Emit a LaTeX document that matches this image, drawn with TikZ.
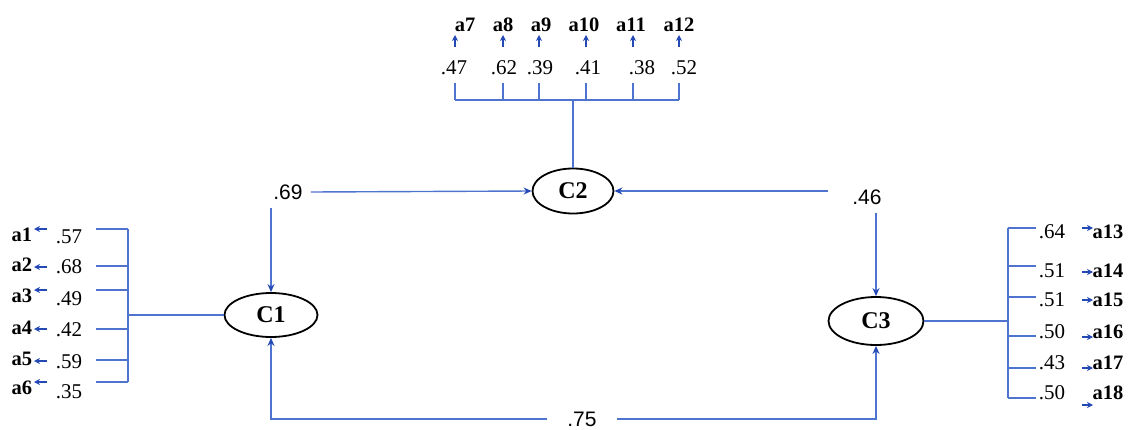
\documentclass[tikz,border=0pt]{standalone}
\usepackage{fontspec}
\setmainfont{Liberation Serif}
\newfontfamily\arialfont{Liberation Sans}
\usetikzlibrary{arrows.meta,shapes.geometric}
\definecolor{lnblue}{HTML}{4F74CF}
\definecolor{tipblue}{HTML}{2449B5}
\begin{document}
\begin{tikzpicture}[x=1pt,y=-1pt, >={Stealth[length=8pt,width=7pt,color=tipblue]},
  lat/.style={draw=black,ellipse,line width=1.8pt,inner sep=0pt,minimum width=93,minimum height=44,font=\fontsize{24}{26}\selectfont\bfseries},
  item/.style={inner sep=0pt,font=\fontsize{20.5}{22}\selectfont\bfseries},
  num/.style={inner sep=0pt,font=\fontsize{21}{23}\selectfont},
  cor/.style={inner ysep=8pt,inner xsep=8pt,font=\fontsize{21}{24}\selectfont\arialfont},
  line/.style={draw=lnblue,line width=1.4pt},
  ind/.style={draw=tipblue,line width=1.2pt,>={Stealth[length=6pt,width=6pt,color=tipblue]}}]
\useasboundingbox (0,0) rectangle (1128,429);
% latent factors
\node[lat] (C1) at (271,315) {C1};
\node[lat,minimum width=81,minimum height=45] (C2) at (573,191) {C2};
\node[lat,minimum width=95,minimum height=48] (C3) at (876,321) {C3};
% correlations between factors
\node[cor] (r12) at (288,192) {.69};
\draw[line,->] (r12.east) -- (C2.west);
\draw[line,->] (r12.south -| C1.north) -- (C1.north);
\node[cor,inner xsep=24pt] (r23) at (867,197) {.46};
\draw[line,->] (C2.east -| r23.west) -- (C2.east);
\draw[line,->] (r23.south -| C3.north) -- (C3.north);
\node[cor,inner xsep=20pt,inner ysep=0pt] (r13) at (582,419) {.75};
\draw[line,->] (r13.west) -| (C1.south);
\draw[line,->] (r13.east) -| (C3.south);
% C1 items
\foreach \i/\ly/\ay/\ny/\v/\by in {1/235/229/237/.57/229, 2/265/267/267/.68/266, 3/296/290/299/.49/290,
    4/328/329/330/.42/329, 5/359/361/362/.59/360, 6/388/382/392/.35/382}{
  \node[item] (a\i) at (22,\ly) {a\i};
  \node[num] (n\i) at (69,\ny) {\v};
  \coordinate (b\i) at (128,\by);
  \draw[line] (b\i) -- ++(-32,0);
  \draw[ind,->] (47,\ay) -- (34,\ay);
}
\draw[line] (b1) -- (b6);
\draw[line] (C1.west) -- (C1.west -| b1);
% C2 items
\foreach \i/\x/\lx/\nx/\v in {7/455/465/454/.47, 8/503/503/504/.62, 9/539/541/540/.39,
    10/586/584/588/.41, 11/633/631/642/.38, 12/679/679/684/.52}{
  \node[item] (a\i) at (\lx,25) {a\i};
  \node[num] (n\i) at (\nx,68) {\v};
  \coordinate (b\i) at (\x,100);
  \draw[line] (b\i) -- ++(0,-17);
  \draw[ind,->] (\x,47) -- (\x,35);
}
\draw[line] (b7) -- (b12);
\draw[line,line width=2.4pt] (C2.north |- b7) -- (C2.north);
% C3 items
\foreach \i/\y/\ay/\by/\v in {13/232/228/228/.64, 14/271/272/266/.51, 15/300/300/297/.51,
    16/332/337/336/.50, 17/363/368/368/.43, 18/393/405/398/.50}{
  \node[item] (a\i) at (1108,\y) {a\i};
  \node[num] (n\i) at (1052,\y) {\v};
  \coordinate (b\i) at (1008,\by);
  \draw[line] (b\i) -- ++(28,0);
  \draw[ind,->] (1082,\ay) -- (1093,\ay);
}
\draw[line] (b13) -- (b18);
\draw[line] (C3.east) -- (C3.east -| b13);
\end{tikzpicture}
\end{document}
